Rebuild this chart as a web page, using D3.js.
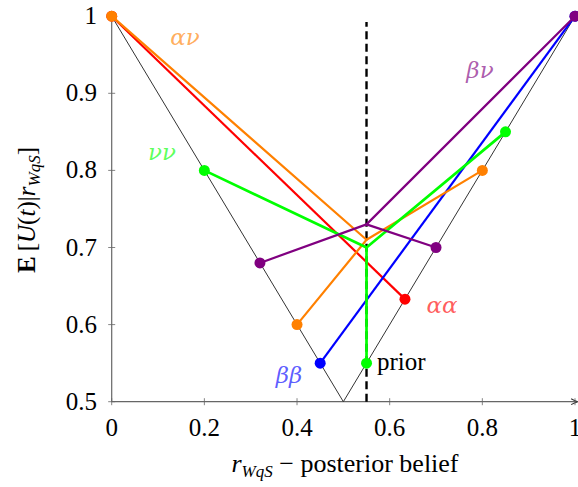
<!DOCTYPE html>
<html>
<head>
<meta charset="utf-8">
<script src="https://cdn.jsdelivr.net/npm/d3@7/dist/d3.min.js"></script>
<style>
  body { margin: 0; background: #fff; }
  svg text { font-family: "Liberation Serif", "DejaVu Serif", serif; }
</style>
</head>
<body>
<div id="chart"></div>
<script>
// axis ticks
const xTicks = [0, 0.2, 0.4, 0.6, 0.8, 1];
const yTicks = [0.5, 0.6, 0.7, 0.8, 0.9, 1];
const prior = 0.55;

// the V shaped envelope
const envelope = [[0, 1], [0.5, 0.5], [1, 1]];

// experiments: posterior points on the V, and the point where their lines meet
const aaPoints = [[0, 1], [0.633, 0.633]];
const bbPoints = [[0.45, 0.55], [1, 1]];
const anPoints = [[0, 1], [0.4, 0.6], [0.8, 0.8]];
const anJoin = [0.55, 0.71];
const nnPoints = [[0.2, 0.8], [0.85, 0.85], [0.55, 0.55]];
const nnJoin = [0.55, 0.70];
const bnPoints = [[0.32, 0.68], [0.7, 0.7], [1, 1]];
const bnJoin = [0.55, 0.73];

const W = 578, H = 487;
const x = d3.scaleLinear().domain([0, 1]).range([111.7, 575]);
const y = d3.scaleLinear().domain([0.5, 1]).range([401.7, 16.2]);

const svg = d3.select("#chart").append("svg")
  .attr("width", W).attr("height", H);

const defs = svg.append("defs");
defs.append("marker")
  .attr("id", "arrow")
  .attr("viewBox", "0 0 10 10")
  .attr("refX", 8).attr("refY", 5)
  .attr("markerWidth", 7).attr("markerHeight", 7)
  .attr("orient", "auto")
  .append("path")
  .attr("d", "M1,1.5 Q5,4 9,5 Q5,6 1,8.5")
  .attr("fill", "none").attr("stroke", "#333").attr("stroke-width", 1.2);

// axes
const axisCol = "#666";
svg.append("line")
  .attr("x1", x(0)).attr("x2", x(1) + 2)
  .attr("y1", y(0.5)).attr("y2", y(0.5))
  .attr("stroke", axisCol).attr("stroke-width", 1.2)
  .attr("marker-end", "url(#arrow)");
svg.append("line")
  .attr("x1", x(0)).attr("x2", x(0))
  .attr("y1", y(0.5)).attr("y2", y(1) - 4)
  .attr("stroke", axisCol).attr("stroke-width", 1.2)
  .attr("marker-end", "url(#arrow)");

const fmt = d => d === 0 || d === 1 ? String(d) : d.toFixed(1);

svg.selectAll(".xt").data(xTicks).enter().append("line")
  .attr("x1", d => x(d)).attr("x2", d => x(d))
  .attr("y1", y(0.5) - 3.5).attr("y2", y(0.5) + 3.5)
  .attr("stroke", axisCol).attr("stroke-width", 0.8);
svg.selectAll(".xl").data(xTicks).enter().append("text")
  .attr("x", d => x(d)).attr("y", 436)
  .attr("text-anchor", "middle").attr("font-size", 25)
  .text(fmt);

svg.selectAll(".yt").data(yTicks).enter().append("line")
  .attr("x1", x(0) - 3.5).attr("x2", x(0) + 3.5)
  .attr("y1", d => y(d)).attr("y2", d => y(d))
  .attr("stroke", axisCol).attr("stroke-width", 0.8);
svg.selectAll(".yl").data(yTicks).enter().append("text")
  .attr("x", 97).attr("y", d => y(d) + 8)
  .attr("text-anchor", "end").attr("font-size", 25)
  .text(fmt);

// axis titles
const xt = svg.append("text")
  .attr("x", 345).attr("y", 472)
  .attr("text-anchor", "middle").attr("font-size", 26);
xt.append("tspan").attr("font-style", "italic").text("r");
xt.append("tspan").attr("font-style", "italic").attr("font-size", 17).attr("dy", 5).text("WqS");
xt.append("tspan").attr("dy", -5).text(" \u2212 posterior belief");

const yt = svg.append("text")
  .attr("transform", "translate(35,210) rotate(-90)")
  .attr("text-anchor", "middle").attr("font-size", 25);
yt.append("tspan").attr("font-weight", "bold").text("E");
yt.append("tspan").text("\u2009[");
yt.append("tspan").attr("font-style", "italic").text("U");
yt.append("tspan").text("(");
yt.append("tspan").attr("font-style", "italic").text("t");
yt.append("tspan").text(")|");
yt.append("tspan").attr("font-style", "italic").text("r");
yt.append("tspan").attr("font-style", "italic").attr("font-size", 17).attr("dy", 5).text("WqS");
yt.append("tspan").attr("dy", -5).text("]");

// envelope and prior
const line = d3.line().x(d => x(d[0])).y(d => y(d[1]));
svg.append("path").datum(envelope)
  .attr("d", line).attr("fill", "none")
  .attr("stroke", "#333").attr("stroke-width", 1);

svg.append("line")
  .attr("x1", x(prior)).attr("x2", x(prior))
  .attr("y1", y(0.5)).attr("y2", 22)
  .attr("stroke", "#000").attr("stroke-width", 2.4)
  .attr("stroke-dasharray", "8,4.5");

function drawSeries(points, join, color, sw) {
  const g = svg.append("g");
  if (join) {
    points.forEach(p => {
      g.append("path").datum([p, join]).attr("d", line)
        .attr("fill", "none").attr("stroke", color).attr("stroke-width", sw)
        .attr("stroke-linecap", "round");
    });
  } else {
    g.append("path").datum(points).attr("d", line)
      .attr("fill", "none").attr("stroke", color).attr("stroke-width", sw);
  }
  g.selectAll("circle").data(points).enter().append("circle")
    .attr("cx", d => x(d[0])).attr("cy", d => y(d[1]))
    .attr("r", 5.5).attr("fill", color);
}

drawSeries(aaPoints, null, "#ff0000", 2.2);
drawSeries(bbPoints, null, "#0000ff", 2.2);
drawSeries(anPoints, anJoin, "#ff8000", 2.2);
drawSeries(nnPoints, nnJoin, "#00ff00", 2.7);
drawSeries(bnPoints, bnJoin, "#800080", 2.2);

// series labels
const labels = [
  { t: "\u03b1\u03bd", x: 185, y: 45, c: "#ff8000" },
  { t: "\u03bd\u03bd", x: 162, y: 160, c: "#00ff00" },
  { t: "\u03b2\u03bd", x: 480, y: 78, c: "#800080" },
  { t: "\u03b1\u03b1", x: 442, y: 313, c: "#ff0000" },
  { t: "\u03b2\u03b2", x: 289, y: 383, c: "#0000ff" }
];
svg.selectAll(".lab").data(labels).enter().append("text")
  .attr("x", d => d.x).attr("y", d => d.y)
  .attr("text-anchor", "middle").attr("font-size", 23)
  .style("font-family", "'DejaVu Serif', serif")
  .attr("font-style", "italic")
  .attr("fill", d => d.c).attr("fill-opacity", 0.65)
  .text(d => d.t);

svg.append("text")
  .attr("x", 377).attr("y", 370)
  .attr("font-size", 25).text("prior");
</script>
</body>
</html>
